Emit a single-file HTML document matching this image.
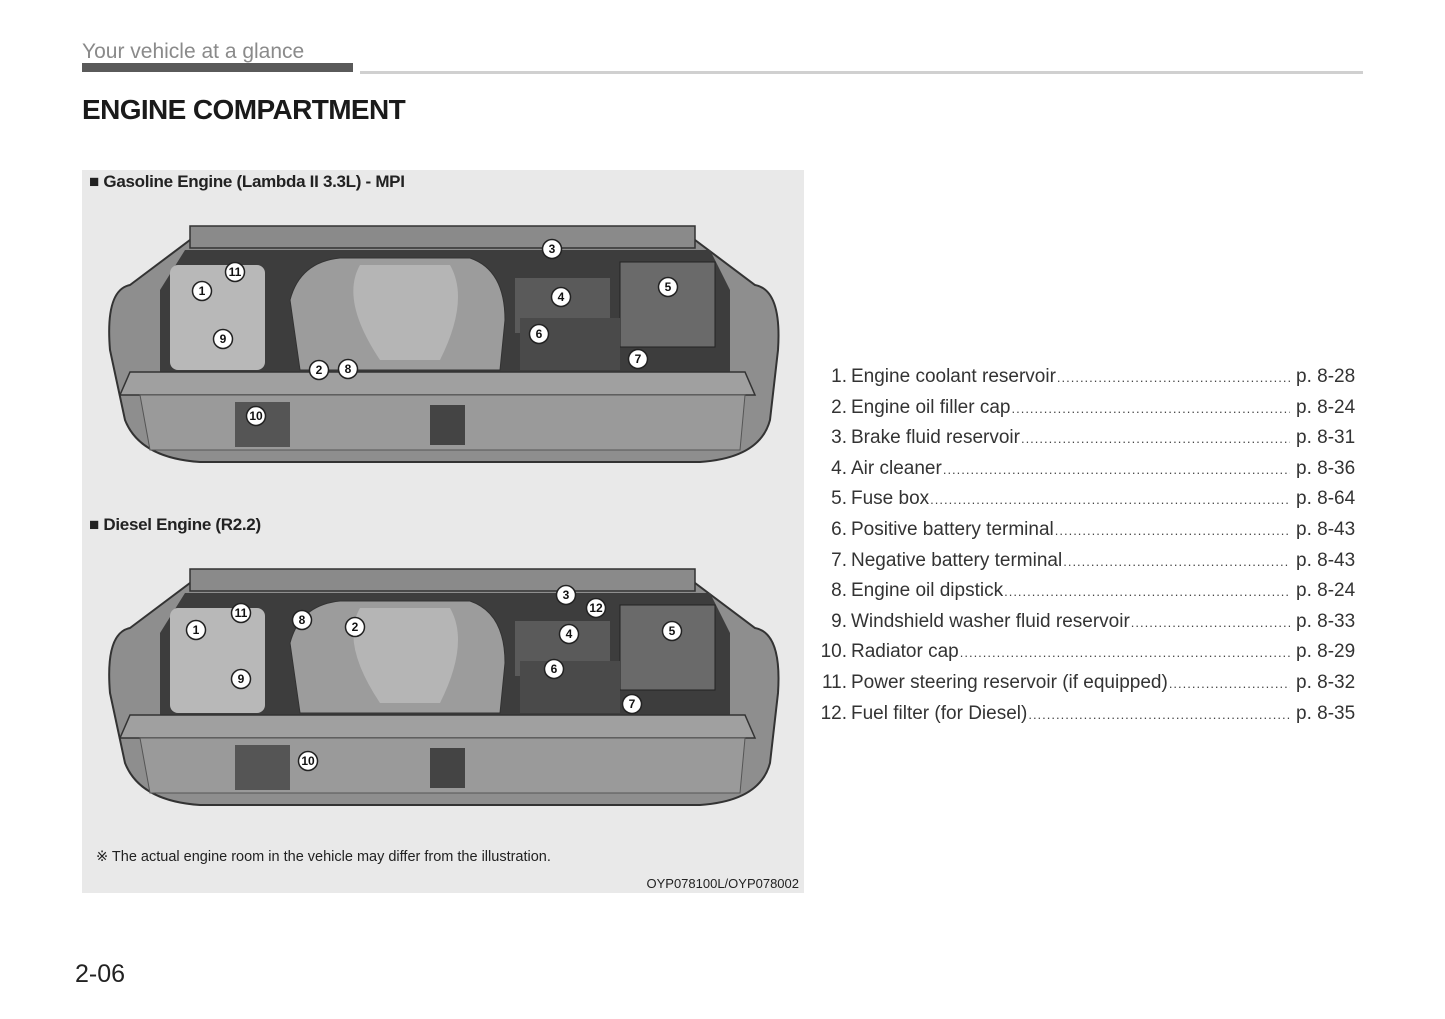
<!DOCTYPE html>
<html><head><meta charset="utf-8"><style>
html,body{margin:0;padding:0;background:#fff;}
body{width:1445px;height:1019px;position:relative;overflow:hidden;font-family:"Liberation Sans","DejaVu Sans",sans-serif;color:#333;}
.abs{position:absolute;white-space:nowrap;}
.list{position:absolute;left:815px;top:366px;width:545px;font-size:19px;color:#333;}
.row{height:30.6px;display:flex;align-items:baseline;}
.n{width:32px;text-align:right;margin-right:4px;}
.t{white-space:nowrap;}
.d{flex:1;overflow:hidden;white-space:nowrap;margin:0 6px 0 1px;letter-spacing:1px;color:#444;font-size:13px;}
.p{width:64px;text-align:left;}
</style></head><body>
<div class="abs" style="left:82px;top:40px;font-size:21px;color:#8a8a8a;">Your vehicle at a glance</div>
<div class="abs" style="left:82px;top:63px;width:271px;height:9px;background:#5a5a5a;"></div>
<div class="abs" style="left:360px;top:71px;width:1003px;height:3px;background:#d0d0d0;"></div>
<div class="abs" style="left:82px;top:94px;font-size:28px;font-weight:bold;color:#1a1a1a;letter-spacing:-0.6px;">ENGINE COMPARTMENT</div>

<div class="abs" style="left:82px;top:170px;width:722px;height:723px;background:#e9e9e9;"></div>
<div class="abs" style="left:89px;top:172px;font-size:17px;font-weight:bold;color:#222;letter-spacing:-0.3px;">&#9632; Gasoline Engine (Lambda II 3.3L) - MPI</div>
<div class="abs" style="left:89px;top:515px;font-size:17px;font-weight:bold;color:#222;letter-spacing:-0.3px;">&#9632; Diesel Engine (R2.2)</div>
<div class="abs" style="left:96px;top:849px;font-size:14.5px;color:#222;">&#8251; The actual engine room in the vehicle may differ from the illustration.</div>
<div class="abs" style="right:646px;top:876px;font-size:13px;color:#222;">OYP078100L/OYP078002</div>

<svg class="abs" style="left:0;top:0" width="1445" height="1019" viewBox="0 0 1445 1019">
<defs>
<g id="car">
 <path d="M130,285 L190,240 L695,240 L755,285 Q782,290 778,350 L770,420 Q760,458 700,462 L200,462 Q140,458 125,420 L110,350 Q105,290 130,285 Z" fill="#8e8e8e" stroke="#333" stroke-width="2"/>
 <rect x="190" y="226" width="505" height="22" fill="#8a8a8a" stroke="#333" stroke-width="1.5"/>
 <path d="M160,290 L185,250 L710,250 L730,290 L730,372 L160,372 Z" fill="#3d3d3d"/>
 <rect x="170" y="265" width="95" height="105" fill="#b8b8b8" rx="8"/>
 <rect x="620" y="262" width="95" height="85" fill="#6a6a6a" stroke="#222"/>
 <rect x="515" y="278" width="95" height="55" fill="#5a5a5a"/>
 <rect x="520" y="318" width="100" height="52" fill="#4a4a4a"/>
 <path d="M290,300 Q300,262 340,258 L470,258 Q505,270 505,320 L500,370 L300,370 Z" fill="#9c9c9c" stroke="#333"/>
 <path d="M360,265 L450,265 Q470,300 440,360 L380,360 Q340,300 360,265 Z" fill="#b5b5b5"/>
 <path d="M130,372 L745,372 L755,395 L120,395 Z" fill="#a0a0a0" stroke="#333" stroke-width="1.5"/>
 <path d="M140,395 L745,395 L740,450 L150,450 Z" fill="#9a9a9a" stroke="#555" stroke-width="1"/>
 <rect x="235" y="402" width="55" height="45" fill="#555"/>
 <rect x="430" y="405" width="35" height="40" fill="#444"/>
</g>
<g id="num"><circle r="9.5" fill="#fff" stroke="#222" stroke-width="1.5"/></g>
</defs>
<use href="#car"/>
<use href="#car" transform="translate(0,343)"/>
<g font-family="Liberation Sans, sans-serif" font-size="12" font-weight="bold" text-anchor="middle" fill="#111">
 <use href="#num" x="552" y="249"/><text x="552" y="253">3</text>
 <use href="#num" x="235" y="272"/><text x="235" y="276">11</text>
 <use href="#num" x="202" y="291"/><text x="202" y="295">1</text>
 <use href="#num" x="561" y="297"/><text x="561" y="301">4</text>
 <use href="#num" x="668" y="287"/><text x="668" y="291">5</text>
 <use href="#num" x="539" y="334"/><text x="539" y="338">6</text>
 <use href="#num" x="223" y="339"/><text x="223" y="343">9</text>
 <use href="#num" x="638" y="359"/><text x="638" y="363">7</text>
 <use href="#num" x="319" y="370"/><text x="319" y="374">2</text>
 <use href="#num" x="348" y="369"/><text x="348" y="373">8</text>
 <use href="#num" x="256" y="416"/><text x="256" y="420">10</text>

 <use href="#num" x="566" y="595"/><text x="566" y="599">3</text>
 <use href="#num" x="596" y="608"/><text x="596" y="612">12</text>
 <use href="#num" x="241" y="613"/><text x="241" y="617">11</text>
 <use href="#num" x="302" y="620"/><text x="302" y="624">8</text>
 <use href="#num" x="355" y="627"/><text x="355" y="631">2</text>
 <use href="#num" x="196" y="630"/><text x="196" y="634">1</text>
 <use href="#num" x="569" y="634"/><text x="569" y="638">4</text>
 <use href="#num" x="672" y="631"/><text x="672" y="635">5</text>
 <use href="#num" x="554" y="669"/><text x="554" y="673">6</text>
 <use href="#num" x="241" y="679"/><text x="241" y="683">9</text>
 <use href="#num" x="632" y="704"/><text x="632" y="708">7</text>
 <use href="#num" x="308" y="761"/><text x="308" y="765">10</text>
</g>
</svg>

<div class="list">
<div class="row"><span class="n">1.</span><span class="t">Engine coolant reservoir</span><span class="d">..............................................................................................</span><span class="p">p. 8-28</span></div>
<div class="row"><span class="n">2.</span><span class="t">Engine oil filler cap</span><span class="d">..............................................................................................</span><span class="p">p. 8-24</span></div>
<div class="row"><span class="n">3.</span><span class="t">Brake fluid reservoir</span><span class="d">..............................................................................................</span><span class="p">p. 8-31</span></div>
<div class="row"><span class="n">4.</span><span class="t">Air cleaner</span><span class="d">..............................................................................................</span><span class="p">p. 8-36</span></div>
<div class="row"><span class="n">5.</span><span class="t">Fuse box</span><span class="d">..............................................................................................</span><span class="p">p. 8-64</span></div>
<div class="row"><span class="n">6.</span><span class="t">Positive battery terminal</span><span class="d">..............................................................................................</span><span class="p">p. 8-43</span></div>
<div class="row"><span class="n">7.</span><span class="t">Negative battery terminal</span><span class="d">..............................................................................................</span><span class="p">p. 8-43</span></div>
<div class="row"><span class="n">8.</span><span class="t">Engine oil dipstick</span><span class="d">..............................................................................................</span><span class="p">p. 8-24</span></div>
<div class="row"><span class="n">9.</span><span class="t">Windshield washer fluid reservoir</span><span class="d">..............................................................................................</span><span class="p">p. 8-33</span></div>
<div class="row"><span class="n">10.</span><span class="t">Radiator cap</span><span class="d">..............................................................................................</span><span class="p">p. 8-29</span></div>
<div class="row"><span class="n">11.</span><span class="t">Power steering reservoir (if equipped)</span><span class="d">..............................................................................................</span><span class="p">p. 8-32</span></div>
<div class="row"><span class="n">12.</span><span class="t">Fuel filter (for Diesel)</span><span class="d">..............................................................................................</span><span class="p">p. 8-35</span></div>
</div>

<div class="abs" style="left:75px;top:960px;font-size:25px;color:#222;">2-06</div>
</body></html>
